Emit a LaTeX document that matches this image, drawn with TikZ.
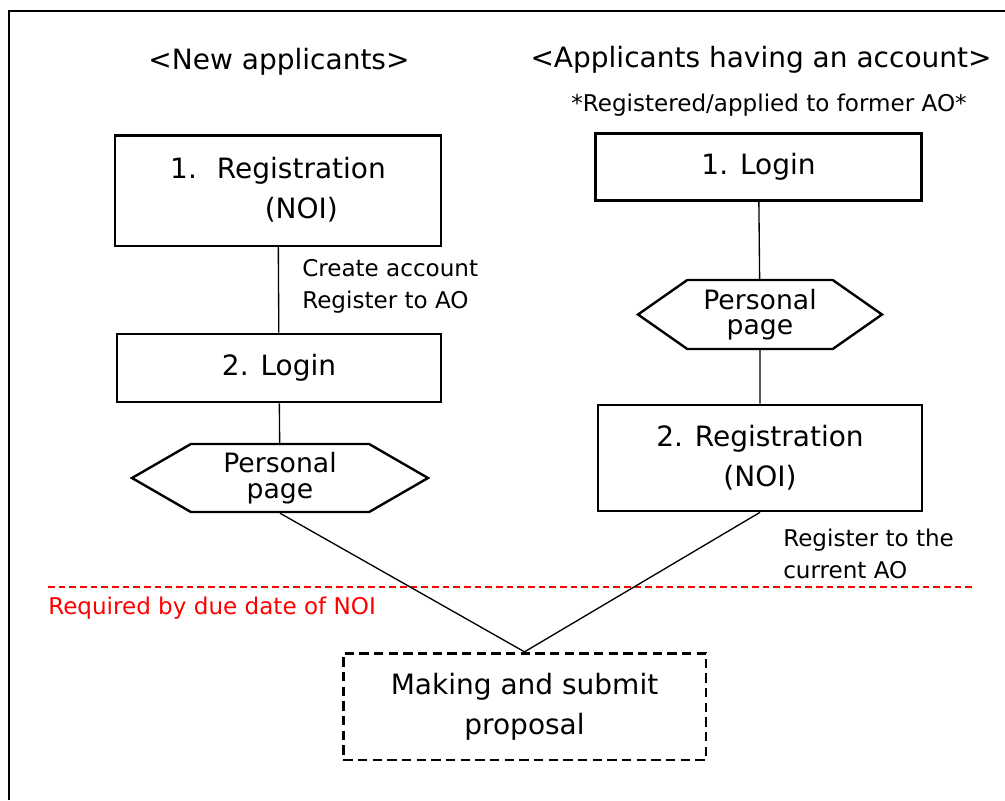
\documentclass[tikz,border=0pt]{standalone}
\usepackage{fontspec}
\usepackage{tikz}
\usepackage{xcolor}
\usetikzlibrary{shapes.symbols}
\setmainfont{DejaVu Sans}
\newcommand\bigtxt{\fontsize{21}{30}\selectfont}
\newcommand\hextxt{\fontsize{20}{19}\selectfont}
\newcommand\smalltxt{\fontsize{17.3}{24}\selectfont}

\begin{document}
\begin{tikzpicture}[x=0.75pt, y=-0.75pt,
  box/.style={draw, line width=2pt, align=center, font=\bigtxt},
  hexa/.style={draw, line width=1.8pt, shape=signal, signal to=west and east, align=center, inner sep=0pt, font=\hextxt},
  link/.style={line width=1pt},
  lbl/.style={inner sep=0pt, align=left, font=\smalltxt}]
\useasboundingbox (0,0) rectangle (1005,800);
\draw[line width=1.5pt] (9,800) -- (9,11) -- (1005,11);

\node[font=\bigtxt] (hdrL) at (279,62) {<New applicants>};
\node[font=\bigtxt] (hdrR) at (761,60) {<Applicants having an account>};
\node[font=\smalltxt] (former) at (769,105) {*Registered/applied to former AO*};

\node[box, minimum width=244.5pt, minimum height=83pt] (regL) at (278,190.5) {1.\hspace{15pt}\begin{tabular}[t]{@{}c@{}}Registration\\(NOI)\end{tabular}};
\node[box, minimum width=243pt, minimum height=51pt] (loginL) at (279,368) {2. Login};
\node[hexa, signal pointer angle=60, minimum width=222pt, minimum height=51pt] (hexL) at (280,478) {Personal\\page};

\node[box, minimum width=244.5pt, minimum height=50pt] (loginR) at (758.5,167) {1. Login};
\node[hexa, signal pointer angle=70, minimum width=183pt, minimum height=51.75pt] (hexR) at (760,314.5) {Personal\\page};
\node[box, minimum width=243pt, minimum height=79.5pt] (regR) at (760,458) {2. Registration\\(NOI)};

\node[box, dash pattern=on 7pt off 4pt, minimum width=272pt, minimum height=80pt] (submit) at (524.5,706.5) {Making and submit\\proposal};

\node[lbl, anchor=west] (acct) at (302,286) {Create account\\Register to AO};
\node[lbl, anchor=west] (current) at (783,554) {Register to the\\current AO};

\coordinate (dueL) at (48,587);
\coordinate (dueR) at (972,587);
\draw[red, line width=1.5pt, dash pattern=on 5pt off 3pt] (dueL) -- (dueR);
\node[lbl, red, anchor=west] (due) at (48,608) {Required by due date of NOI};

\draw[link] (regL) -- (loginL);
\draw[link] (loginL) -- (hexL);
\draw[link] (hexL.south) -- (submit.north);
\draw[link] (loginR) -- (hexR);
\draw[link] (hexR) -- (regR);
\draw[link] (regR.south) -- (submit.north);
\end{tikzpicture}
\end{document}
